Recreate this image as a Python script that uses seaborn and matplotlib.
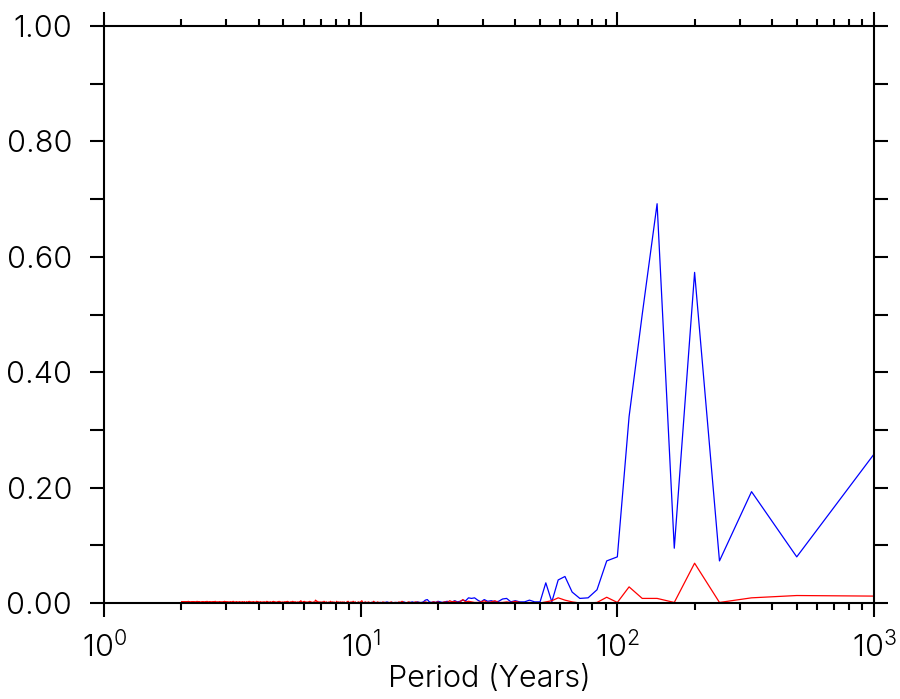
import numpy as np
import pandas as pd
import matplotlib
matplotlib.use('Agg')
import matplotlib.pyplot as plt
from matplotlib.ticker import MultipleLocator, FormatStrFormatter, LogLocator, LogFormatterMathtext, NullFormatter
import seaborn as sns

record_length = 1000  # years in the record

harmonic = np.arange(1, 501)  # Fourier harmonics 1..500

period = record_length / harmonic  # Period of each harmonic (years), 1000 down to 2

# Harmonics 1-20 (periods 1000 ... 50 years).
blue_low = [0.258, 0.080, 0.193, 0.073, 0.573, 0.095, 0.692, 0.500, 0.323, 0.080,
            0.073, 0.023, 0.009, 0.008, 0.019, 0.046, 0.040, 0.002, 0.035, 0.002]

red_low = [0.012, 0.013, 0.009, 0.001, 0.069, 0.001, 0.008, 0.008, 0.028, 0.001,
           0.010, 0.001, 0.000, 0.000, 0.002, 0.005, 0.009, 0.004, 0.002, 0.000]

# Harmonics 21-500 (periods 47.6 ... 2 years), in thousandths, estimated.
blue_tail = [2, 5, 2, 2, 4, 2, 8, 7, 3, 2, 4, 3, 6, 2, 5, 9, 8, 9, 4, 5,
             3, 2, 4, 2, 1, 3, 2, 1, 2, 3, 1, 2, 1, 2, 6, 5, 2, 1, 1, 2,
             1, 1, 2, 1, 1, 0, 1, 2, 1, 1, 0, 1, 1, 0, 1, 1, 0, 1, 2, 1,
             1, 0, 1, 1, 0, 0, 1, 1, 0, 1, 1, 0, 0, 1, 0, 1, 1, 0, 0, 1,
             0, 1, 0, 0, 1, 0, 0, 0, 1, 0, 0, 0, 1, 0, 0, 1, 0, 0, 0, 1,
             0, 0, 0, 1, 0, 0, 0, 0, 1, 0, 0, 0, 0, 0, 1, 0, 0, 0, 0, 0,
             1, 0, 0, 0, 0, 0, 0, 1, 0, 0, 0, 0, 0, 0, 0, 1, 0, 0, 0, 0,
             0, 0, 0, 0, 1, 0, 0, 0, 0, 0, 0, 0, 0, 1, 0, 0, 0, 0, 0, 0,
             0, 0, 1, 0, 0, 0, 0, 0, 0, 0, 0, 0, 0, 0, 0, 1, 0, 0, 0, 0,
             0, 0, 0, 0, 0, 0, 0, 0, 0, 0, 1, 0, 0, 0, 0, 0, 0, 0, 0, 0,
             0, 0, 0, 0, 0, 0, 0, 0, 0, 0, 0, 0, 0, 0, 0, 0, 0, 0, 0, 0,
             0, 0, 0, 0, 0, 0, 0, 0, 0, 0, 0, 0, 0, 0, 0, 0, 0, 0, 0, 0,
             0, 0, 0, 0, 0, 0, 0, 0, 0, 0, 0, 0, 0, 0, 0, 0, 0, 0, 0, 0,
             0, 0, 0, 0, 0, 0, 0, 0, 0, 0, 0, 0, 0, 0, 0, 0, 0, 0, 0, 0,
             0, 0, 0, 0, 0, 0, 0, 0, 0, 0, 0, 0, 0, 0, 0, 0, 0, 0, 0, 0,
             0, 0, 0, 0, 0, 0, 0, 0, 0, 0, 0, 0, 0, 0, 0, 0, 0, 0, 0, 0,
             0, 0, 0, 0, 0, 0, 0, 0, 0, 0, 0, 0, 0, 0, 0, 0, 0, 0, 0, 0,
             0, 0, 0, 0, 0, 0, 0, 0, 0, 0, 0, 0, 0, 0, 0, 0, 0, 0, 0, 0,
             0, 0, 0, 0, 0, 0, 0, 0, 0, 0, 0, 0, 0, 0, 0, 0, 0, 0, 0, 0,
             0, 0, 0, 0, 0, 0, 0, 0, 0, 0, 0, 0, 0, 0, 0, 0, 0, 0, 0, 0,
             0, 0, 0, 0, 0, 0, 0, 0, 0, 0, 0, 0, 0, 0, 0, 0, 0, 0, 0, 0,
             0, 0, 0, 0, 0, 0, 0, 0, 0, 0, 0, 0, 0, 0, 0, 0, 0, 0, 0, 0,
             0, 0, 0, 0, 0, 0, 0, 0, 0, 0, 0, 0, 0, 0, 0, 0, 0, 0, 0, 0,
             0, 0, 0, 0, 0, 0, 0, 0, 0, 0, 0, 0, 0, 0, 0, 0, 0, 0, 0, 0]

red_tail = [0, 1, 0, 1, 3, 1, 2, 1, 1, 4, 2, 1, 4, 2, 1, 1, 2, 3, 2, 6,
            2, 1, 3, 2, 4, 1, 2, 1, 0, 2, 1, 2, 1, 0, 1, 2, 1, 0, 1, 1,
            2, 1, 0, 1, 2, 1, 0, 1, 3, 1, 2, 0, 1, 1, 0, 2, 1, 1, 0, 1,
            1, 2, 0, 1, 1, 2, 0, 1, 3, 1, 1, 0, 2, 1, 1, 2, 0, 1, 4, 2,
            1, 2, 1, 0, 2, 1, 3, 1, 2, 1, 1, 3, 2, 1, 0, 2, 1, 2, 1, 2,
            1, 2, 1, 3, 1, 0, 2, 1, 2, 1, 3, 1, 2, 0, 1, 2, 1, 2, 3, 1,
            2, 1, 2, 1, 2, 1, 3, 2, 4, 5, 2, 1, 2, 1, 1, 2, 1, 3, 1, 2,
            1, 2, 1, 2, 1, 3, 1, 2, 1, 2, 4, 3, 1, 2, 1, 2, 1, 1, 2, 1,
            2, 1, 2, 3, 1, 2, 1, 2, 1, 1, 2, 1, 3, 1, 2, 1, 2, 1, 2, 1,
            1, 2, 1, 1, 2, 1, 2, 3, 1, 2, 1, 2, 1, 1, 2, 1, 2, 1, 3, 1,
            2, 1, 1, 2, 1, 2, 1, 1, 2, 1, 2, 3, 1, 2, 1, 1, 2, 1, 2, 1,
            1, 2, 1, 1, 2, 1, 2, 1, 1, 2, 1, 2, 1, 3, 1, 1, 2, 1, 1, 2,
            1, 2, 1, 2, 1, 1, 2, 1, 2, 1, 1, 3, 1, 2, 1, 1, 2, 1, 2, 1,
            1, 1, 2, 1, 2, 1, 1, 2, 1, 2, 1, 1, 2, 1, 1, 2, 1, 2, 1, 1,
            2, 1, 1, 2, 1, 2, 1, 1, 2, 1, 1, 2, 1, 3, 1, 1, 2, 1, 1, 2,
            1, 2, 1, 1, 2, 1, 1, 2, 1, 1, 2, 1, 2, 1, 1, 2, 1, 1, 3, 1,
            1, 2, 1, 2, 1, 1, 2, 1, 1, 2, 1, 1, 2, 1, 2, 1, 1, 2, 1, 1,
            2, 1, 1, 2, 1, 1, 2, 1, 3, 1, 1, 2, 1, 1, 2, 1, 2, 1, 1, 2,
            1, 1, 2, 1, 1, 2, 1, 2, 1, 1, 2, 1, 1, 2, 1, 1, 3, 1, 1, 2,
            1, 2, 1, 1, 2, 1, 1, 2, 1, 1, 2, 1, 2, 1, 1, 2, 1, 1, 2, 1,
            1, 1, 2, 1, 1, 2, 1, 2, 1, 1, 2, 1, 1, 3, 1, 1, 2, 1, 1, 2,
            2, 1, 1, 2, 1, 1, 2, 1, 1, 2, 1, 2, 1, 1, 2, 1, 1, 2, 1, 1,
            1, 2, 1, 1, 2, 1, 1, 2, 1, 3, 1, 1, 2, 1, 1, 2, 1, 1, 2, 1,
            1, 1, 2, 1, 2, 1, 1, 2, 1, 1, 2, 1, 1, 2, 1, 1, 2, 1, 2, 1]

blue_values = np.concatenate([blue_low, np.array(blue_tail) / 1000.0])

red_values = np.concatenate([red_low, np.array(red_tail) / 1000.0])

df = pd.DataFrame({'period': np.concatenate([period, period]),
                   'value': np.concatenate([blue_values, red_values]),
                   'series': ['blue'] * len(period) + ['red'] * len(period)})

sns.set_style('ticks')

plt.rcParams['font.family'] = ['Inter', 'DejaVu Sans']
plt.rcParams['font.weight'] = 300
plt.rcParams['text.color'] = 'black'
plt.rcParams['axes.labelcolor'] = 'black'
plt.rcParams['xtick.color'] = 'black'
plt.rcParams['ytick.color'] = 'black'
plt.rcParams['mathtext.fontset'] = 'custom'
plt.rcParams['mathtext.rm'] = 'Inter:light'
plt.rcParams['mathtext.default'] = 'regular'

fig = plt.figure(figsize=(9, 6.99), dpi=100)

axs = fig.add_axes([0.1156, 0.1373, 0.8555, 0.8255])

sns.lineplot(data=df, x='period', y='value', hue='series', hue_order=['blue', 'red'],
             palette={'blue': '#0000ff', 'red': '#ff0000'}, estimator=None, sort=True,
             linewidth=0.9, legend=False, ax=axs)

axs.set_xscale('log')

axs.set_xlim(1, 1000)

axs.set_ylim(0, 1)

axs.xaxis.set_major_locator(LogLocator(base=10))
axs.xaxis.set_minor_locator(LogLocator(base=10, subs=np.arange(2, 10)))
axs.xaxis.set_major_formatter(LogFormatterMathtext())
axs.xaxis.set_minor_formatter(NullFormatter())

axs.yaxis.set_major_locator(MultipleLocator(0.2))
axs.yaxis.set_minor_locator(MultipleLocator(0.1))
axs.yaxis.set_major_formatter(FormatStrFormatter('%.2f'))

for side in ['top', 'right', 'bottom', 'left']:
    axs.spines[side].set_visible(True)
    axs.spines[side].set_linewidth(1.5)
    axs.spines[side].set_color('black')

axs.tick_params(axis='both', which='both', direction='out', top=True, right=True, width=1.5,
                labelsize=22, color='black', labelcolor='black')
axs.tick_params(axis='x', which='major', length=10, pad=10)
axs.tick_params(axis='x', which='minor', length=5)
axs.tick_params(axis='y', which='both', length=10, pad=13)

axs.set_xlabel('Period (Years)', fontsize=22, fontweight=300, color='black', labelpad=1)
axs.set_ylabel('')

plt.savefig('out.png', dpi=100)
